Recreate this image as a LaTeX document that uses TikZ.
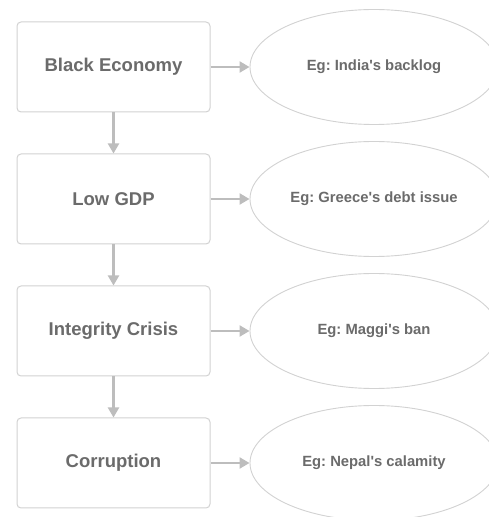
\documentclass[tikz,border=0pt]{standalone}
\usepackage{fontspec}
\setsansfont{Liberation Sans}
\usetikzlibrary{arrows.meta,shapes.geometric}
\definecolor{linegray}{HTML}{D2D2D2}
\definecolor{arrowgray}{HTML}{BDBDBD}
\definecolor{textgray}{HTML}{6B6B6B}
\frenchspacing

\begin{document}
\begin{tikzpicture}[
  x=1pt, y=1pt,
  font=\sffamily,
  cause/.style={draw=linegray, line width=1pt, rounded corners=4pt, fill=white, align=center,
                minimum width=193pt, minimum height=90pt, inner sep=0pt, text=textgray,
                font=\sffamily\bfseries\fontsize{18.5}{22}\selectfont},
  example/.style={draw=linegray, line width=0.9pt, ellipse, fill=white, align=center,
                  minimum width=248pt, minimum height=115pt, inner sep=0pt, text=textgray,
                  font=\sffamily\bfseries\fontsize{14.8}{18}\selectfont},
  link/.style={draw=arrowgray, line width=2.2pt, -{Triangle[length=10pt,width=11pt]}, color=arrowgray}
]
\useasboundingbox (0,0) rectangle (489,517);
\node[cause] (c0) at (113.5,450) {Black Economy};
\node[example] (e0) at (374,450) {Eg: India\textquotesingle s backlog};
\draw[link] (c0) -- (e0);
\node[cause] (c1) at (113.5,318) {Low GDP};
\node[example] (e1) at (374,318) {Eg: Greece\textquotesingle s debt issue};
\draw[link] (c1) -- (e1);
\node[cause] (c2) at (113.5,186) {Integrity Crisis};
\node[example] (e2) at (374,186) {Eg: Maggi\textquotesingle s ban};
\draw[link] (c2) -- (e2);
\node[cause] (c3) at (113.5,54) {Corruption};
\node[example] (e3) at (374,54) {Eg: Nepal\textquotesingle s calamity};
\draw[link] (c3) -- (e3);
\draw[link] (c0) -- (c1);
\draw[link] (c1) -- (c2);
\draw[link] (c2) -- (c3);
\end{tikzpicture}
\end{document}
